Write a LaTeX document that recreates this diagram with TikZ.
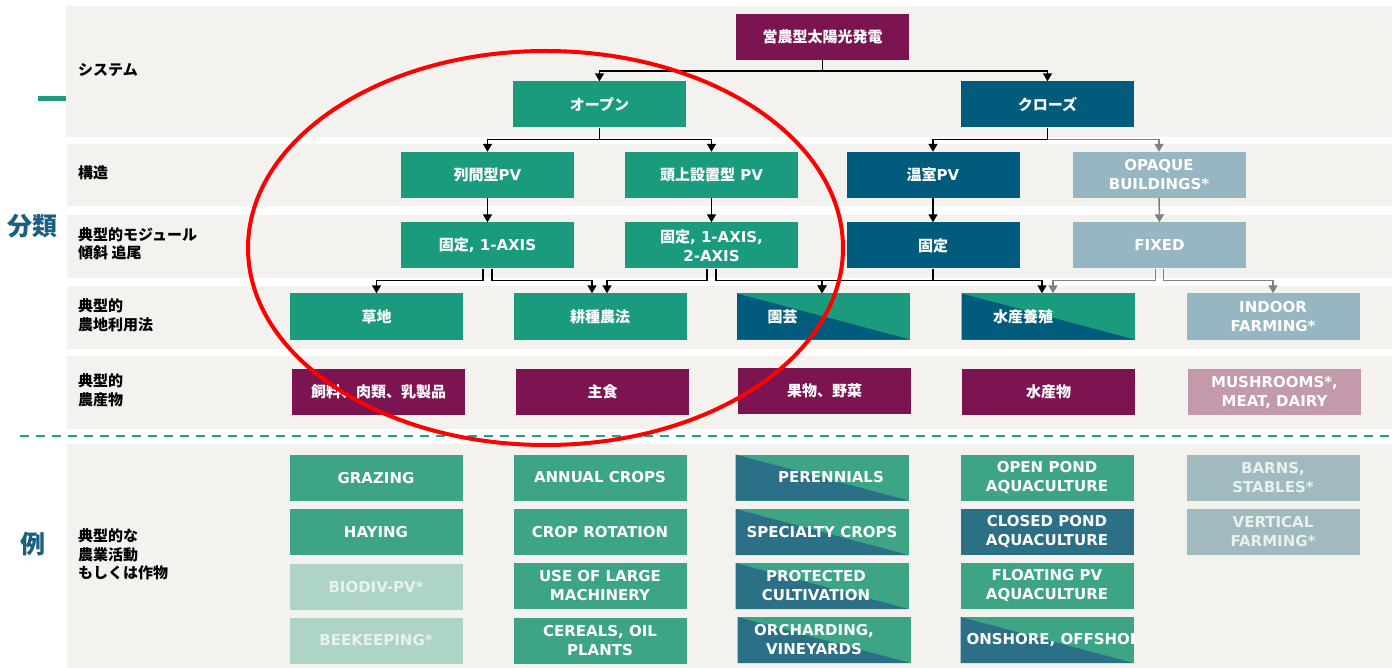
\documentclass[tikz,border=0pt]{standalone}
\usepackage{fontspec}
\setmainfont{DejaVu Sans}
\newfontfamily\jp{Noto Sans CJK JP}
\usetikzlibrary{arrows.meta}
\definecolor{cMar}{HTML}{7B1450}
\definecolor{cGrn}{HTML}{1A9B7E}
\definecolor{cBlu}{HTML}{005B7C}
\definecolor{cLbl}{HTML}{96B7C2}
\definecolor{cPnk}{HTML}{C499AC}
\definecolor{cEgr}{HTML}{3DA586}
\definecolor{cEbl}{HTML}{2B7086}
\definecolor{cFgr}{HTML}{ADD4C4}
\definecolor{cFtx}{HTML}{E8F1EC}
\definecolor{cEgy}{HTML}{A1BAC0}
\definecolor{cBg}{HTML}{F3F2EE}
\definecolor{cDash}{HTML}{1FA385}
\definecolor{cHead}{HTML}{1B5F80}
\definecolor{cGray}{HTML}{808080}
\definecolor{cRed}{HTML}{FF0000}
\tikzset{
  base/.style={minimum width=173, minimum height=46, inner sep=0pt, align=center, text=white, font=\bfseries\fontsize{15}{19}\selectfont},
  mar/.style={base, fill=cMar},
  grn/.style={base, fill=cGrn},
  blu/.style={base, fill=cBlu},
  lbl/.style={base, fill=cLbl},
  pnk/.style={base, fill=cPnk},
  egr/.style={base, fill=cEgr},
  ebl/.style={base, fill=cEbl},
  fgr/.style={base, fill=cFgr, text=cFtx},
  egy/.style={base, fill=cEgy, text=cFtx},
  split/.style 2 args={base, fill=#2, path picture={\fill[#1] (path picture bounding box.north west) -- (path picture bounding box.south east) -- (path picture bounding box.south west) -- cycle;}},
  lab/.style={anchor=west, align=left, inner sep=0pt, text=black, font=\jp\bfseries\fontsize{15}{18.5}\selectfont},
  big/.style={inner sep=0pt, text=cHead, font=\jp\bfseries\fontsize{25}{25}\selectfont},
  conn/.style={draw=black, line width=1.5pt, -{Triangle[width=9pt,length=8pt]}},
  gconn/.style={draw=cGray, line width=1.5pt, -{Triangle[width=9pt,length=8pt]}},
}
\begin{document}
\begin{tikzpicture}[x=1pt,y=-1pt]
\useasboundingbox (0,0) rectangle (1397,668);
\fill[white] (0,0) rectangle (1397,668);
% bands
\fill[cBg] (66,6) rectangle (1392,137);
\fill[cBg] (67,144) rectangle (1392,206);
\fill[cBg] (67,215) rectangle (1392,278);
\fill[cBg] (67,286) rectangle (1392,349);
\fill[cBg] (67,356) rectangle (1392,429);
\fill[cBg] (67,444) rectangle (1392,668);
\draw[cGrn, line width=5pt] (38,99) -- (66,99);
\draw[cDash, line width=2.5pt, dash pattern=on 9pt off 7pt] (20,436) -- (1392,436);
% side headings
\node[big] (h1) at (33,226) {分類};
\node[big] (h2) at (33,544) {例};
% row labels
\node[lab] (l1) at (78,70) {システム};
\node[lab] (l2) at (78,173) {構造};
\node[lab] (l3) at (78,244) {典型的モジュール\\傾斜 追尾};
\node[lab] (l4) at (78,315.5) {典型的\\農地利用法};
\node[lab] (l5) at (78,390.5) {典型的\\農産物};
\node[lab] (l6) at (78,554.5) {典型的な\\農業活動\\もしくは作物};
% system
\node[mar] (top) at (822.5,37) {\jp 営農型太陽光発電};
\node[grn] (open) at (599.5,104.5) {\jp オープン};
\node[blu] (closed) at (1047.5,104.5) {\jp クローズ};
% structure
\node[grn] (r2a) at (487.5,175) {{\jp 列間型}PV};
\node[grn] (r2b) at (711.5,175) {{\jp 頭上設置型} PV};
\node[blu] (r2c) at (933,175) {{\jp 温室}PV};
\node[lbl] (r2d) at (1159,175) {OPAQUE\\BUILDINGS*};
% module
\node[grn] (r3a) at (487.5,245.5) {{\jp 固定}, 1-AXIS};
\node[grn] (r3b) at (711.5,245.5) {{\jp 固定}, 1-AXIS,\\2-AXIS};
\node[blu] (r3c) at (933,245.5) {\jp 固定};
\node[lbl] (r3d) at (1159.5,245.5) {FIXED};
% land use
\node[grn] (r4a) at (376.5,316.5) {\jp 草地};
\node[grn] (r4b) at (600,316.5) {\jp 耕種農法};
\node[split={cBlu}{cGrn}] (r4c) at (823.5,316.5) {};
\node[text=white, font=\jp\bfseries\fontsize{15}{19}\selectfont] (t4c) at ([xshift=-41pt]r4c.center) {園芸};
\node[split={cBlu}{cGrn}] (r4d) at (1048,316.5) {};
\node[text=white, font=\jp\bfseries\fontsize{15}{19}\selectfont] (t4d) at ([xshift=-25pt]r4d.center) {水産養殖};
\node[lbl] (r4e) at (1273,316.5) {INDOOR\\FARMING*};
% products
\node[mar] (r5a) at (378.5,391.5) {\jp 飼料、肉類、乳製品};
\node[mar] (r5b) at (602.5,392) {\jp 主食};
\node[mar] (r5c) at (824.5,390.5) {\jp 果物、野菜};
\node[mar] (r5d) at (1048.5,392) {\jp 水産物};
\node[pnk] (r5e) at (1274.5,392) {MUSHROOMS*,\\MEAT, DAIRY};
% examples
\node[egr] (e11) at (376,478) {GRAZING};
\node[egr] (e12) at (376,532) {HAYING};
\node[fgr] (e13) at (376,587) {BIODIV-PV*};
\node[fgr] (e14) at (376,640.5) {BEEKEEPING*};
\node[egr] (e21) at (600,477.5) {ANNUAL CROPS};
\node[egr] (e22) at (600,532) {CROP ROTATION};
\node[egr] (e23) at (600,586) {USE OF LARGE\\MACHINERY};
\node[egr] (e24) at (600,641) {CEREALS, OIL\\PLANTS};
\node[split={cEbl}{cEgr}] (e31) at (822,477.5) {};
\node[text=white, font=\bfseries\fontsize{15}{19}\selectfont] (t31) at ([xshift=9pt]e31.center) {PERENNIALS};
\node[split={cEbl}{cEgr}] (e32) at (822,532) {SPECIALTY CROPS};
\node[split={cEbl}{cEgr}] (e33) at (822,586) {};
\node[text=white, align=center, font=\bfseries\fontsize{15}{19}\selectfont] (t33) at ([xshift=-6pt]e33.center) {PROTECTED\\CULTIVATION};
\node[split={cEbl}{cEgr}] (e34) at (824,640) {};
\node[text=white, align=center, font=\bfseries\fontsize{15}{19}\selectfont] (t34) at ([xshift=-10pt]e34.center) {ORCHARDING,\\VINEYARDS};
\node[egr] (e41) at (1047,478) {OPEN POND\\AQUACULTURE};
\node[ebl] (e42) at (1047,532) {CLOSED POND\\AQUACULTURE};
\node[egr] (e43) at (1047,586) {FLOATING PV\\AQUACULTURE};
\node[split={cEbl}{cEgr}] (e44) at (1047,640) {};
\begin{scope}
\clip (e44.south west) rectangle (e44.north east);
\node[anchor=west, inner sep=0pt, text=white, font=\bfseries\fontsize{15}{19}\selectfont] (t44) at ([xshift=6pt]e44.west) {ONSHORE, OFFSHORE};
\end{scope}
\node[egy] (e51) at (1273,478) {BARNS,\\STABLES*};
\node[egy] (e52) at (1273,532) {VERTICAL\\FARMING*};
% connectors
\draw[conn] (top.south) -- ++(0,11) -| (open.north);
\draw[conn] (top.south) -- ++(0,11) -| (closed.north);
\draw[conn] (open.south) -- ++(0,12) -| (r2a.north);
\draw[conn] (open.south) -- ++(0,12) -| (r2b.north);
\draw[gconn] ([yshift=-12pt]closed.south) -| (r2d.north);
\draw[conn] (closed.south) -- ++(0,12) -| (r2c.north);
\draw[conn] (r2a.south) -- (r3a.north);
\draw[conn] (r2b.south) -- (r3b.north);
\draw[conn] (r2c.south) -- (r3c.north);
\draw[gconn] (r2d.south) -- (r3d.north);
\draw[conn] ([xshift=-4.5pt]r3a.south) -- ++(0,12) -| (r4a.north);
\draw[conn] ([xshift=4.5pt]r3a.south) -- ++(0,12) -| ([xshift=-8pt]r4b.north);
\draw[conn] ([xshift=-4.5pt]r3b.south) -- ++(0,12) -| ([xshift=7pt]r4b.north);
\draw[conn] ([xshift=4.5pt]r3b.south) -- ++(0,12) -| ([xshift=-1.5pt]r4c.north);
\draw[conn] (r3c.south) -- ++(0,12) -| ([xshift=-1.5pt]r4c.north);
\draw[conn] (r3c.south) -- ++(0,12) -| ([xshift=-6pt]r4d.north);
\draw[gconn] ([xshift=-4pt]r3d.south) -- ++(0,12) -| ([xshift=5pt]r4d.north);
\draw[gconn] ([xshift=4pt]r3d.south) -- ++(0,12) -| (r4e.north);
% red ellipse
\draw[cRed, line width=4pt] (545.5,248) ellipse [x radius=297.5, y radius=197];
\end{tikzpicture}
\end{document}
